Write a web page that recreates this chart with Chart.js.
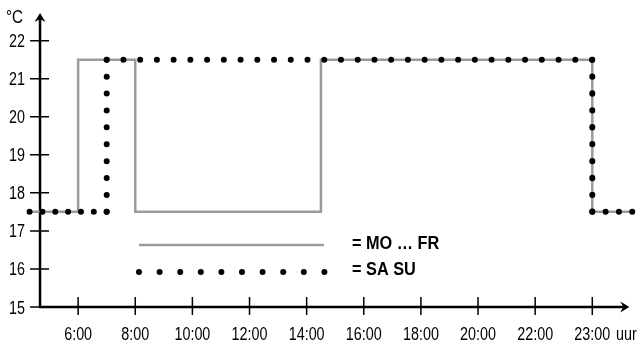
<!DOCTYPE html>
<html>
<head>
<meta charset="utf-8">
<script src="https://cdn.jsdelivr.net/npm/chart.js@4.4.1/dist/chart.umd.min.js"></script>
<style>
  body { margin: 0; background: #fff; }
  #wrap { width: 638px; height: 340px; }
</style>
</head>
<body>
<div id="wrap"><canvas id="tempChart" width="638" height="340"></canvas></div>
<script>
// switch times (hours) and set temperatures of both programs
const moFrHours = [4.3, 6, 6, 8, 8, 14.5, 14.5, 23, 23, 23.7];
const moFrTemps = [17.5, 17.5, 21.5, 21.5, 17.5, 17.5, 21.5, 21.5, 17.5, 17.5];
const saSuHours = [4.3, 7, 7, 23, 23, 23.7];
const saSuTemps = [17.5, 17.5, 21.5, 21.5, 17.5, 17.5];

const xTickHours = [6, 8, 10, 12, 14, 16, 18, 20, 22, 23];
const xTickLabels = ["6:00", "8:00", "10:00", "12:00", "14:00", "16:00", "18:00", "20:00", "22:00", "23:00"];
const yTicks = [15, 16, 17, 18, 19, 20, 21, 22];
const legendLabels = ["= MO \u2026 FR", "= SA SU"];

const FONT = "'Liberation Sans', Arial, sans-serif";
const GREY = "#9b9b9b";
const Y_AXIS_POS = -0.667; // where the vertical axis crosses the time axis
const X_AXIS_END = 9.63;   // arrow tip of the time axis

// time axis is not linear: one step = 2 h up to 22:00, after that 1 h
function hourToPos(h) {
  if (h <= 22) return (h - 6) / 2;
  return 8 + (h - 22);
}

function toPoints(hours, temps) {
  return hours.map((h, i) => ({ x: hourToPos(h), y: temps[i] }));
}

// evenly spread dots so that every corner gets one
function dotDash(ctx) {
  const len = Math.hypot(ctx.p1.x - ctx.p0.x, ctx.p1.y - ctx.p0.y);
  const step = len < 100 ? 13 : 16.5;
  const n = Math.max(1, Math.round(len / step));
  return [0, len / n - 0.01];
}

// the original uses a condensed face, squeeze a normal one instead
function narrowText(ctx, text, x, y, align, squeeze) {
  ctx.save();
  ctx.translate(x, y);
  ctx.scale(squeeze, 1);
  ctx.textAlign = align;
  ctx.fillText(text, 0, 0);
  ctx.restore();
}

const axesPlugin = {
  id: "axes",
  beforeDatasetsDraw(chart) {
    const { ctx, scales: { x, y } } = chart;
    const x0 = x.getPixelForValue(Y_AXIS_POS);
    const y0 = y.getPixelForValue(15);
    const top = chart.chartArea.top;
    const right = x.getPixelForValue(X_AXIS_END);

    ctx.save();
    ctx.strokeStyle = "#000";
    ctx.fillStyle = "#000";

    // axis lines
    ctx.lineWidth = 2.5;
    ctx.beginPath();
    ctx.moveTo(x0, y0 + 1);
    ctx.lineTo(x0, top + 5);
    ctx.moveTo(x0 - 1, y0);
    ctx.lineTo(right - 5, y0);
    ctx.stroke();

    // arrow heads
    ctx.beginPath();
    ctx.moveTo(x0, top - 1);
    ctx.lineTo(x0 + 5.5, top + 8);
    ctx.lineTo(x0, top + 5);
    ctx.lineTo(x0 - 5.5, top + 8);
    ctx.closePath();
    ctx.fill();
    ctx.beginPath();
    ctx.moveTo(right + 1, y0);
    ctx.lineTo(right - 8, y0 - 5.5);
    ctx.lineTo(right - 5, y0);
    ctx.lineTo(right - 8, y0 + 5.5);
    ctx.closePath();
    ctx.fill();

    // tick marks
    ctx.lineWidth = 1.5;
    ctx.beginPath();
    yTicks.forEach(v => {
      const py = y.getPixelForValue(v);
      ctx.moveTo(x0 - 10, py);
      ctx.lineTo(x0 + 9, py);
    });
    xTickHours.forEach(h => {
      const px = x.getPixelForValue(hourToPos(h));
      ctx.moveTo(px, y0 - 10);
      ctx.lineTo(px, y0 + 8);
    });
    ctx.stroke();

    // tick labels
    ctx.font = "17.5px " + FONT;
    ctx.textBaseline = "alphabetic";
    yTicks.forEach(v => {
      narrowText(ctx, String(v), 25, y.getPixelForValue(v) + 6.5, "right", 0.82);
    });
    xTickHours.forEach((h, i) => {
      narrowText(ctx, xTickLabels[i], x.getPixelForValue(hourToPos(h)), 339.5, "center", 0.82);
    });
    ctx.font = "18.5px " + FONT;
    narrowText(ctx, "\u00b0C", 6, 23, "left", 0.82);
    ctx.font = "17.5px " + FONT;
    narrowText(ctx, "uur", 616, 339.5, "left", 0.82);
    ctx.restore();
  },
  afterDatasetsDraw(chart) {
    const { ctx } = chart;
    ctx.save();
    // legend samples
    ctx.strokeStyle = GREY;
    ctx.lineWidth = 2.5;
    ctx.beginPath();
    ctx.moveTo(139, 245);
    ctx.lineTo(324, 245);
    ctx.stroke();
    ctx.fillStyle = "#000";
    for (let i = 0; i < 10; i++) {
      ctx.beginPath();
      ctx.arc(139 + i * 20.6, 272, 3, 0, Math.PI * 2);
      ctx.fill();
    }
    ctx.font = "bold 17.5px " + FONT;
    ctx.textBaseline = "alphabetic";
    narrowText(ctx, legendLabels[0], 352, 249, "left", 0.93);
    narrowText(ctx, legendLabels[1], 352, 275, "left", 0.93);
    ctx.restore();
  }
};

new Chart(document.getElementById("tempChart"), {
  type: "line",
  data: {
    datasets: [
      {
        label: "SA SU",
        data: toPoints(saSuHours, saSuTemps),
        borderColor: "#000",
        borderWidth: 6,
        borderCapStyle: "round",
        segment: { borderDash: dotDash },
        pointRadius: 0,
        tension: 0,
        clip: false
      },
      {
        label: "MO ... FR",
        data: toPoints(moFrHours, moFrTemps),
        borderColor: GREY,
        borderWidth: 2.5,
        pointRadius: 0,
        tension: 0,
        clip: false
      }
    ]
  },
  options: {
    responsive: false,
    animation: false,
    events: [],
    layout: { padding: { left: 21, right: 0, top: 14, bottom: 33 } },
    plugins: { legend: { display: false }, tooltip: { enabled: false } },
    scales: {
      x: { type: "linear", display: false, min: -1, max: 9.8 },
      y: { type: "linear", display: false, min: 15, max: 22.7 }
    }
  },
  plugins: [axesPlugin]
});
</script>
</body>
</html>
